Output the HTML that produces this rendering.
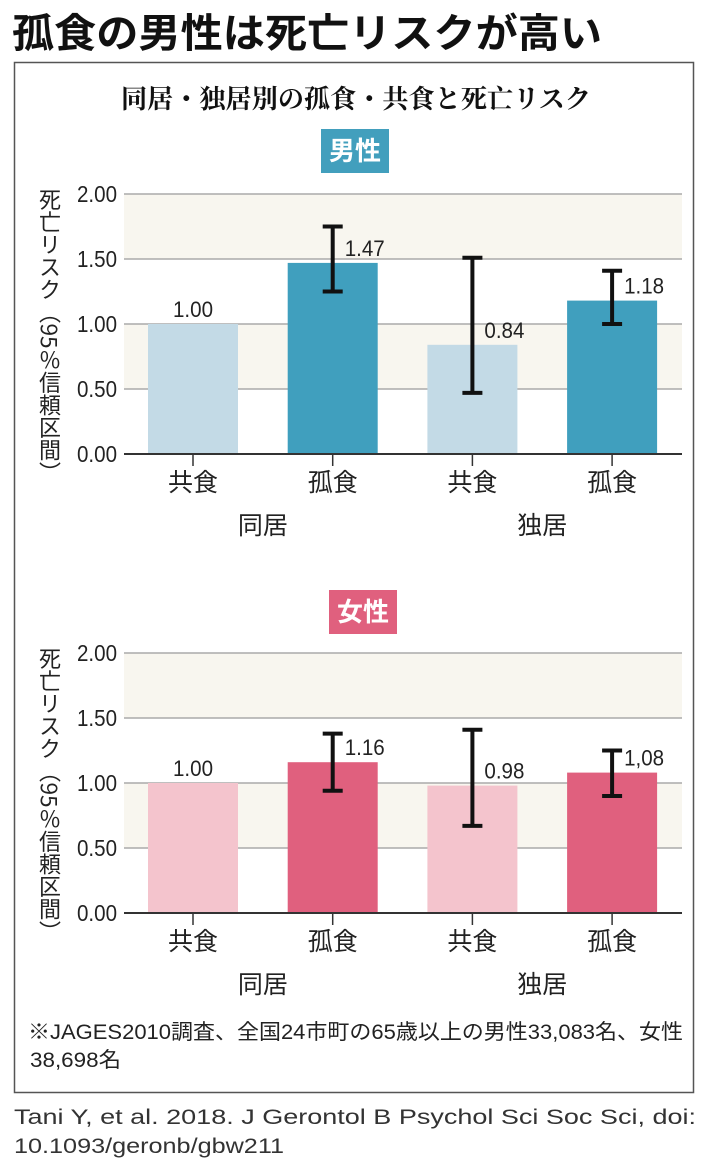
<!DOCTYPE html>
<html><head><meta charset="utf-8">
<style>
body{margin:0;background:#fff;width:710px;height:1175px;overflow:hidden;font-family:"Liberation Sans","Noto Sans CJK JP",sans-serif;}
svg{display:block}
</style></head>
<body>
<svg id="root" width="710" height="1175" viewBox="0 0 710 1175">
  <text x="12" y="47" font-size="40" font-weight="bold" fill="#111" font-family="'Liberation Sans','Noto Sans CJK JP',sans-serif" textLength="590" lengthAdjust="spacingAndGlyphs">孤食の男性は死亡リスクが高い</text>
  <rect x="14.5" y="62.5" width="679" height="1030" fill="none" stroke="#555" stroke-width="1.5"/>
  <text x="356" y="108" text-anchor="middle" font-size="26" font-weight="bold" fill="#111" font-family="'Liberation Serif','Noto Serif CJK SC',serif" textLength="470" lengthAdjust="spacingAndGlyphs">同居・独居別の孤食・共食と死亡リスク</text>
  <g id="male"></g>
  <g id="female"></g>
  <text x="28" y="1039" font-size="21" fill="#222" font-family="'Liberation Sans','Noto Sans CJK JP',sans-serif" textLength="655" lengthAdjust="spacingAndGlyphs">※JAGES2010調査、全国24市町の65歳以上の男性33,083名、女性</text>
  <text x="30" y="1067" font-size="21" fill="#222" font-family="'Liberation Sans','Noto Sans CJK JP',sans-serif" textLength="91" lengthAdjust="spacingAndGlyphs">38,698名</text>
  <text x="14" y="1124" font-size="21" fill="#333" textLength="682" lengthAdjust="spacingAndGlyphs">Tani Y, et al. 2018. J Gerontol B Psychol Sci Soc Sci,  doi:</text>
  <text x="14" y="1153" font-size="21" fill="#333" textLength="270" lengthAdjust="spacingAndGlyphs">10.1093/geronb/gbw211</text>
</svg>
<script>
const categories = ["共食","孤食","共食","孤食"];
const groups = ["同居","独居"];
const yTicks = [0, 0.5, 1.0, 1.5, 2.0];
const tickLabels = ["0.00","0.50","1.00","1.50","2.00"];
const maleValues = [1.00, 1.47, 0.84, 1.18];
const maleLow = [null, 1.25, 0.47, 1.00];
const maleHigh = [null, 1.75, 1.51, 1.41];
const maleLabels = ["1.00","1.47","0.84","1.18"];
const femaleValues = [1.00, 1.16, 0.98, 1.08];
const femaleLow = [null, 0.94, 0.67, 0.90];
const femaleHigh = [null, 1.38, 1.41, 1.25];
const femaleLabels = ["1.00","1.16","0.98","1,08"];

const NS = "http://www.w3.org/2000/svg";
const NUM = "'Liberation Sans',sans-serif";
function mk(tag, attrs, parent){
  const e = document.createElementNS(NS, tag);
  for (const k in attrs) e.setAttribute(k, attrs[k]);
  parent.appendChild(e); return e;
}
function drawPanel(g, opt){
  const x0 = 124, x1 = 682, y0 = opt.base, pxPerUnit = 130;
  const y = v => y0 - v * pxPerUnit;
  const x = i => 193 + i * 139.7;
  const bw = 90;
  const b = mk('rect', {x: opt.badgeX, y: opt.badgeY, width: 68, height: 44, fill: opt.badgeColor}, g);
  
  
  const bt = mk('text', {x: opt.badgeX + 34, y: opt.badgeY + 31, 'text-anchor': 'middle', 'font-size': 26, 'font-weight': 'bold', fill: '#fff'}, g);
  bt.textContent = opt.title;
  
  
  [[0.5, 1.0], [1.5, 2.0]].forEach((r) => {
    const band = mk('rect', {x: x0, y: y(r[1]), width: x1 - x0, height: y(r[0]) - y(r[1]), fill: '#f8f6ef'}, g);
    
    
  });
  yTicks.forEach((t, i) => {
    if (t > 0) {
      const gl = mk('line', {x1: x0, x2: x1, y1: y(t), y2: y(t), stroke: '#aaa', 'stroke-width': 1.5}, g);
      
      
    }
    const tl = mk('text', {x: 117, y: y(t) + 8, 'text-anchor': 'end', 'font-size': 23, fill: '#222', 'font-family': NUM, textLength: 40, lengthAdjust: 'spacingAndGlyphs'}, g);
    tl.textContent = tickLabels[i];
    
    
  });
  const yt = mk('text', {x: 50, y: y(2.0) - 6, 'font-size': 22, fill: '#222', 'font-family': "'Noto Sans CJK JP',sans-serif", textLength: 296, lengthAdjust: 'spacingAndGlyphs'}, g);
  yt.setAttribute('style', 'writing-mode:vertical-rl');
  yt.textContent = '死亡リスク（95％信頼区間）';
  
  
  const vals = opt.values;
  vals.forEach((v, i) => {
    const r = mk('rect', {x: x(i) - bw / 2, y: y(v), width: bw, height: y(0) - y(v), fill: i % 2 === 0 ? opt.light : opt.dark}, g);
    
    
    let lx, anchor;
    if (opt.low[i] === null) { lx = x(i); anchor = 'middle'; }
    else { lx = x(i) + 12; anchor = 'start'; }
    const vl = mk('text', {x: lx, y: y(v) - 7, 'text-anchor': anchor, 'font-size': 22, fill: '#222', 'font-family': NUM, textLength: 40, lengthAdjust: 'spacingAndGlyphs'}, g);
    vl.textContent = opt.labels[i];
    
    
    if (opt.low[i] !== null) {
      const eg = mk('g', {stroke: '#111', 'stroke-width': 4}, g);
      
      
      mk('line', {x1: x(i), x2: x(i), y1: y(opt.low[i]), y2: y(opt.high[i])}, eg);
      mk('line', {x1: x(i) - 10, x2: x(i) + 10, y1: y(opt.low[i]), y2: y(opt.low[i])}, eg);
      mk('line', {x1: x(i) - 10, x2: x(i) + 10, y1: y(opt.high[i]), y2: y(opt.high[i])}, eg);
    }
    const tk = mk('line', {x1: x(i), x2: x(i), y1: y0, y2: y0 + 12, stroke: '#333', 'stroke-width': 1.5}, g);
    
    
    const cl = mk('text', {x: x(i), y: y0 + 37, 'text-anchor': 'middle', 'font-size': 25, fill: '#222'}, g);
    cl.textContent = categories[i];
    
    
  });
  groups.forEach((gname, k) => {
    const gl = mk('text', {x: (x(2 * k) + x(2 * k + 1)) / 2, y: y0 + 80, 'text-anchor': 'middle', 'font-size': 25, fill: '#222'}, g);
    gl.textContent = gname;
    
    
  });
  const ax = mk('line', {x1: x0, x2: x1, y1: y0, y2: y0, stroke: '#333', 'stroke-width': 2}, g);
  
  
}
drawPanel(document.getElementById('male'), {name: 'male', title: '男性', base: 454, badgeX: 321, badgeY: 129, badgeColor: '#429fbd', light: '#c3dae6', dark: '#409fbe', values: maleValues, low: maleLow, high: maleHigh, labels: maleLabels});
drawPanel(document.getElementById('female'), {name: 'female', title: '女性', base: 913, badgeX: 329, badgeY: 590, badgeColor: '#e0607e', light: '#f4c4cd', dark: '#e0607e', values: femaleValues, low: femaleLow, high: femaleHigh, labels: femaleLabels});
</script>
</body></html>
